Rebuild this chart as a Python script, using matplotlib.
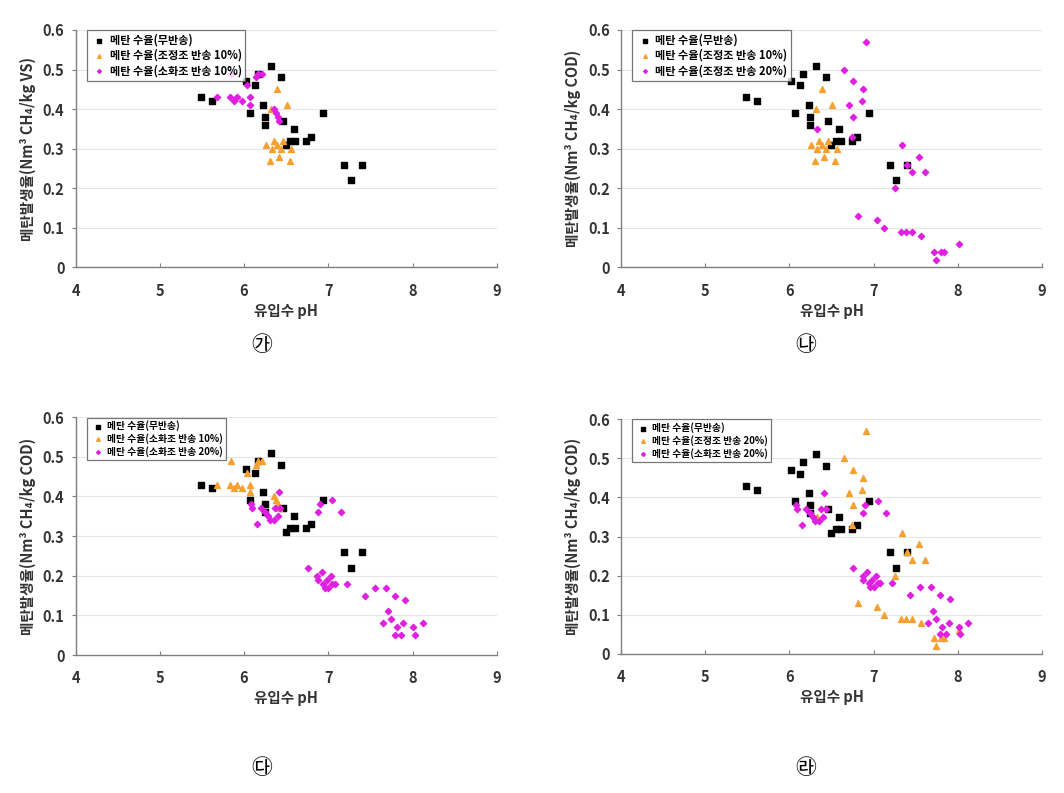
import numpy as np
import matplotlib.pyplot as plt

plt.rcParams['font.family'] = ['Noto Sans CJK KR', 'DejaVu Sans']

# 메탄 수율(무반송)
ph_none = [5.49, 5.62, 6.02, 6.07, 6.13, 6.16, 6.23, 6.25, 6.25, 6.32, 6.44,
           6.46, 6.50, 6.55, 6.59, 6.61, 6.74, 6.80, 6.94, 7.19, 7.27, 7.40]
y_none = [0.43, 0.42, 0.47, 0.39, 0.46, 0.49, 0.41, 0.38, 0.36, 0.51, 0.48,
          0.37, 0.31, 0.32, 0.35, 0.32, 0.32, 0.33, 0.39, 0.26, 0.22, 0.26]

# 조정조 반송 10%
ph_adj10 = [6.39, 6.32, 6.51, 6.26, 6.35, 6.39, 6.33, 6.44, 6.46, 6.56, 6.31, 6.41, 6.54]
y_adj10 = [0.45, 0.40, 0.41, 0.31, 0.32, 0.31, 0.30, 0.30, 0.32, 0.30, 0.27, 0.28, 0.27]

# 소화조 반송 10%
ph_dig10 = [5.85, 5.68, 5.83, 5.88, 5.92, 5.98, 6.07, 6.07, 6.03, 6.14, 6.17,
            6.21, 6.36, 6.38, 6.40, 6.42]
y_dig10 = [0.49, 0.43, 0.43, 0.42, 0.43, 0.42, 0.43, 0.41, 0.46, 0.48, 0.49,
           0.49, 0.40, 0.39, 0.38, 0.37]

# 조정조 반송 20%
ph_adj20 = [6.91, 6.65, 6.76, 6.88, 6.86, 6.71, 6.76, 6.33, 6.74, 7.34, 7.54,
            7.40, 7.46, 7.61, 7.25, 6.81, 7.04, 7.12, 7.33, 7.38, 7.46, 7.56,
            7.72, 7.80, 7.84, 7.74, 8.01]
y_adj20 = [0.57, 0.50, 0.47, 0.45, 0.42, 0.41, 0.38, 0.35, 0.33, 0.31, 0.28,
           0.26, 0.24, 0.24, 0.20, 0.13, 0.12, 0.10, 0.09, 0.09, 0.09, 0.08,
           0.04, 0.04, 0.04, 0.02, 0.06]

# 소화조 반송 20%
ph_dig20 = [6.41, 6.08, 6.09, 6.20, 6.15, 6.25, 6.28, 6.31, 6.35, 6.37, 6.40,
            6.43, 6.88, 6.90, 7.05, 7.15, 6.76, 6.87, 6.88, 6.92, 6.94, 6.96,
            6.98, 7.00, 7.03, 7.05, 7.08, 7.22, 7.43, 7.55, 7.68, 7.79, 7.91,
            7.71, 7.74, 7.65, 7.81, 7.79, 7.86, 7.89, 8.01, 8.03, 8.12]
y_dig20 = [0.41, 0.38, 0.37, 0.37, 0.33, 0.36, 0.35, 0.34, 0.34, 0.37, 0.35,
           0.37, 0.36, 0.38, 0.39, 0.36, 0.22, 0.20, 0.19, 0.21, 0.18, 0.17,
           0.19, 0.17, 0.20, 0.18, 0.18, 0.18, 0.15, 0.17, 0.17, 0.15, 0.14,
           0.11, 0.09, 0.08, 0.07, 0.05, 0.05, 0.08, 0.07, 0.05, 0.08]

lab_none = '메탄 수율(무반송)'
lab_adj10 = '메탄 수율(조정조 반송 10%)'
lab_dig10 = '메탄 수율(소화조 반송 10%)'
lab_adj20 = '메탄 수율(조정조 반송 20%)'
lab_dig20 = '메탄 수율(소화조 반송 20%)'

panels = [
    # rect, orange series, magenta series, ylabel, legend fontsize, tag, tag pos
    ([0.0710, 0.6627, 0.3959, 0.2995], (ph_adj10, y_adj10, lab_adj10),
     (ph_dig10, y_dig10, lab_dig10), '메탄발생율(Nm³ CH₄/kg VS)', 8.0, '㉮', (262, 345)),
    ([0.5836, 0.6627, 0.3957, 0.2995], (ph_adj10, y_adj10, lab_adj10),
     (ph_adj20, y_adj20, lab_adj20), '메탄발생율(Nm³ CH₄/kg COD)', 8.0, '㉯', (806, 345)),
    ([0.0710, 0.1740, 0.3959, 0.3000], (ph_dig10, y_dig10, lab_dig10),
     (ph_dig20, y_dig20, lab_dig20), '메탄발생율(Nm³ CH₄/kg COD)', 7.0, '㉰', (262, 768)),
    ([0.5836, 0.1753, 0.3957, 0.2963], (ph_adj20, y_adj20, lab_adj20),
     (ph_dig20, y_dig20, lab_dig20), '메탄발생율(Nm³ CH₄/kg COD)', 7.0, '㉱', (806, 768)),
]

fig = plt.figure(figsize=(10.64, 7.93), dpi=100)

for rect, org, mag, ylab, lfs, tag, tpos in panels:
    ax = fig.add_axes(rect)
    ax.scatter(ph_none, y_none, marker='s', s=25, color='black', label=lab_none, zorder=3)
    ax.scatter(org[0], org[1], marker='^', s=18, color='#F5A030', label=org[2], zorder=4)
    ax.scatter(mag[0], mag[1], marker='D', s=10, color='#E020E0', label=mag[2], zorder=5)
    ax.set_xlim(4, 9)
    ax.set_ylim(0, 0.6)
    ax.set_xticks(np.arange(4, 10, 1))
    ax.set_yticks(np.arange(0, 0.61, 0.1))
    ax.set_yticklabels(['0', '0.1', '0.2', '0.3', '0.4', '0.5', '0.6'])
    ax.yaxis.grid(True, color='#e6e6e6', lw=0.8)
    ax.set_axisbelow(True)
    for s in ['top', 'right']:
        ax.spines[s].set_visible(False)
    for s in ['left', 'bottom']:
        ax.spines[s].set_color('#7f7f7f')
        ax.spines[s].set_linewidth(1.0)
    ax.tick_params(axis='x', direction='in', length=3, color='#7f7f7f', pad=11,
                   labelsize=10.5, labelcolor='#333333')
    ax.tick_params(axis='y', direction='out', length=3, color='#7f7f7f', pad=5,
                   labelsize=10.5, labelcolor='#333333')
    for t in ax.get_xticklabels() + ax.get_yticklabels():
        t.set_fontweight('bold')
    ax.set_xlabel('유입수 pH', fontsize=10.5, fontweight='bold', color='#333333', labelpad=3)
    ax.set_ylabel(ylab, fontsize=10.5, fontweight='bold', color='#333333', labelpad=5)
    leg = ax.legend(loc='upper left', bbox_to_anchor=(0.027, 0.998), borderaxespad=0,
                    frameon=True, fancybox=False, handletextpad=0.15,
                    handlelength=1.6, borderpad=0.3, labelspacing=0.2, markerscale=0.6,
                    prop={'weight': 'bold', 'size': lfs})
    leg.get_frame().set_edgecolor('#555555')
    leg.get_frame().set_linewidth(0.9)
    fig.text(tpos[0] / 1064, 1 - tpos[1] / 793, tag, fontsize=15, ha='center', va='center')

fig.savefig('out.png', dpi=100)
